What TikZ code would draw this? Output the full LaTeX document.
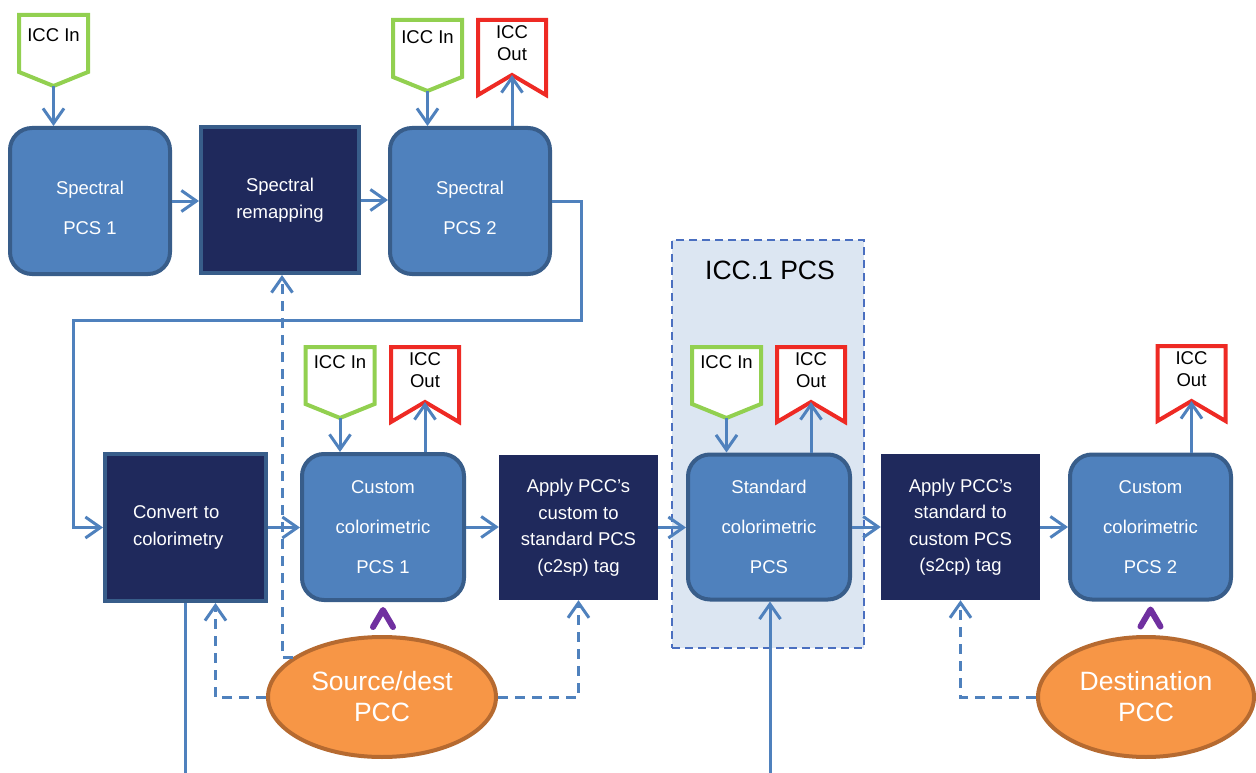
\documentclass[tikz,border=0pt]{standalone}
\usepackage{fontspec}
\setmainfont{Liberation Sans}
\usetikzlibrary{arrows.meta,shapes.geometric,calc}

\definecolor{lineblue}{HTML}{4F81BD}
\definecolor{boxblue}{HTML}{4F81BD}
\definecolor{boxedge}{HTML}{385D8A}
\definecolor{navy}{HTML}{1F295C}
\definecolor{pccfill}{HTML}{F79646}
\definecolor{pccedge}{HTML}{B66A30}
\definecolor{taggreen}{HTML}{92D050}
\definecolor{tagred}{HTML}{EE2A24}
\definecolor{groupfill}{HTML}{DCE6F2}
\definecolor{groupedge}{HTML}{4A6FC0}
\definecolor{caretpurple}{HTML}{7030A0}

\tikzset{
  pcsbox/.style={draw=boxedge, fill=boxblue, line width=4pt, rounded corners=22pt,
    text=white, align=center, font=\fontsize{18.5}{40}\selectfont, inner sep=0pt},
  procbox/.style={fill=navy, text=white, align=center,
    font=\fontsize{18.5}{26.5}\selectfont, inner sep=0pt},
  framed/.style={draw=boxedge, line width=4pt},
  conn/.style={draw=lineblue, line width=3pt, -{Straight Barb[length=15pt,width=21pt]}},
  wire/.style={draw=lineblue, line width=3pt},
  dashconn/.style={conn, dash pattern=on 10pt off 7pt},
  pcc/.style={ellipse, draw=pccedge, fill=pccfill, line width=4pt, text=white,
    align=center, font=\fontsize{26.5}{31}\selectfont,
    minimum width=228pt, minimum height=120pt, inner sep=0pt},
  intag/.style={draw=taggreen, fill=white, line width=4pt},
  outtag/.style={draw=tagred, fill=white, line width=4pt},
  tagtext/.style={font=\fontsize{18.5}{22}\selectfont, align=center, inner sep=0pt},
  caret/.style={draw=caretpurple, line width=6pt, line cap=round, line join=round},
}

% ICC input tag: name, centre x, top y, text offset
\newcommand\iccin[4]{%
  \draw[intag] (#2-34.5,#3) -- (#2+34.5,#3) -- (#2+34.5,#3+57) -- (#2,#3+71)
    -- (#2-34.5,#3+57) -- cycle;
  \coordinate (#1) at (#2,#3+71);
  \node[tagtext] (#1-label) at (#2,#3+#4) {ICC In};
}
% ICC output tag: name, centre x, top y
\newcommand\iccout[3]{%
  \draw[outtag] (#2-34,#3) -- (#2+34,#3) -- (#2+34,#3+75) -- (#2,#3+55)
    -- (#2-34,#3+75) -- cycle;
  \coordinate (#1) at (#2,#3+55);
  \node[tagtext] (#1-label) at (#2,#3+23) {ICC\\Out};
}
% taller first line pushes a two-line label down inside its box
\newcommand\lowerstrut{\rule{0pt}{27pt}}

\begin{document}
\begin{tikzpicture}[x=1pt,y=-1pt]
\useasboundingbox (0,0) rectangle (1256,773);

% ICC.1 PCS group
\node[draw=groupedge, fill=groupfill, line width=2.5pt, dash pattern=on 8pt off 5pt,
  minimum width=192pt, minimum height=408pt, inner sep=0pt] (group) at (768,444) {};
\node[font=\fontsize{26.5}{30}\selectfont, inner sep=0pt] (group-title) at (770,270) {ICC.1 PCS};

% spectral row
\node[pcsbox, minimum width=160pt, minimum height=146pt] (sp1) at (90,201) {\lowerstrut Spectral\\PCS 1};
\node[procbox, framed, minimum width=158pt, minimum height=146pt] (remap) at (280,200) {Spectral\\remapping};
\node[pcsbox, minimum width=160pt, minimum height=146pt] (sp2) at (470,201) {\lowerstrut Spectral\\PCS 2};

% colorimetric row
\node[procbox, framed, minimum width=161pt, minimum height=147pt, align=left, text width=105pt]
  (conv) at (185.5,527.5) {Convert to\\colorimetry};
\node[pcsbox, minimum width=162pt, minimum height=146pt] (cust1) at (383,527) {Custom\\colorimetric\\PCS 1};
\node[procbox, minimum width=159pt, minimum height=145pt] (c2sp) at (578.5,527.5)
  {Apply PCC’s\\custom to\\standard PCS\\(c2sp) tag};
\node[pcsbox, minimum width=162pt, minimum height=145pt] (std) at (769,527) {Standard\\colorimetric\\PCS};
\node[procbox, minimum width=159pt, minimum height=146pt] (s2cp) at (960.5,527)
  {Apply PCC’s\\standard to\\custom PCS\\(s2cp) tag};
\node[pcsbox, minimum width=161pt, minimum height=145pt] (cust2) at (1150.5,527) {Custom\\colorimetric\\PCS 2};

% profile connection conditions
\node[pcc] (src) at (382,697) {Source/dest\\PCC};
\node[pcc, minimum width=216pt] (dst) at (1146,697) {Destination\\PCC};

% ICC tags
\iccin{in1}{53.5}{15}{20}
\iccin{in2}{427.5}{20}{17}
\iccout{out2}{512}{20}
\iccin{in3}{340}{347}{15}
\iccout{out3}{425}{347}
\iccin{in4}{726.5}{347}{15}
\iccout{out4}{811}{347}
\iccout{out5}{1191.5}{346}

% tag connectors
\draw[conn] (in1) -- (in1 |- sp1.north);
\draw[conn] (in2) -- (in2 |- sp2.north);
\draw[conn] (out2 |- sp2.north) -- (out2);
\draw[conn] (in3) -- (in3 |- cust1.north);
\draw[conn] (out3 |- cust1.north) -- (out3);
\draw[conn] (in4) -- (in4 |- std.north);
\draw[conn] (out4 |- std.north) -- (out4);
\draw[conn] (out5 |- cust2.north) -- (out5);

% main flow
\draw[conn] (sp1.east) -- (sp1.east -| remap.west);
\draw[conn] (remap.east) -- (remap.east -| sp2.west);
\coordinate (loopR) at (581,320);
\coordinate (loopL) at (73,320);
\draw[conn] (sp2.east) -| (loopR) -- (loopL) |- (conv.west);
\draw[conn] (conv.east) -- (conv.east -| cust1.west);
\draw[conn] (cust1.east) -- (cust1.east -| c2sp.west);
\draw[conn] (c2sp.east) -- (c2sp.east -| std.west);
\draw[conn] (std.east) -- (std.east -| s2cp.west);
\draw[conn] (s2cp.east) -- (s2cp.east -| cust2.west);

% feeds at the bottom
\coordinate (convfeed) at (185.5,773);
\draw[wire] (conv.south) -- (convfeed);
\coordinate (stdfeed) at (770,773);
\draw[conn] (stdfeed) -- (stdfeed |- std.south);

% PCC data paths
\draw[dashconn] (src.156) -| ([xshift=2pt]remap.south);
\draw[dashconn] (src.west) -| ([xshift=30pt]conv.south);
\draw[dashconn] (src.east) -| (c2sp.south);
\draw[dashconn] (dst.west) -| (s2cp.south);

% PCC attachment marks
\draw[caret] ($(cust1.south)+(-10,25)$) -- ($(cust1.south)+(0,8)$) -- ($(cust1.south)+(10,25)$);
\draw[caret] ($(cust2.south)+(-10,25)$) -- ($(cust2.south)+(0,8)$) -- ($(cust2.south)+(10,25)$);
\end{tikzpicture}
\end{document}
